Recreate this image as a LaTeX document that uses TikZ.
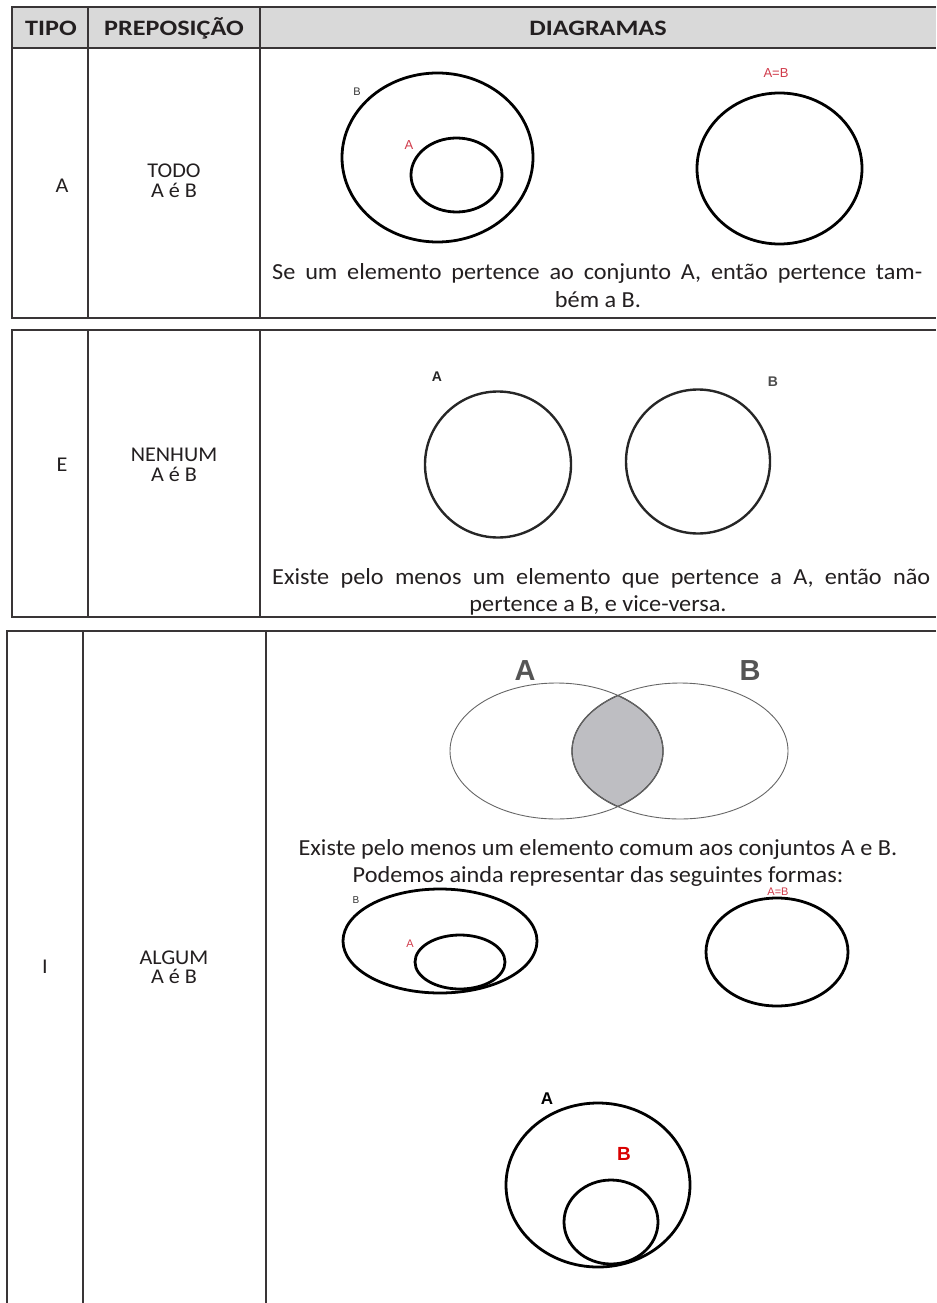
\documentclass[tikz,border=0pt]{standalone}
\usepackage{fontspec}
\setmainfont{Carlito}
\newfontfamily\diagfont{Carlito}[FakeStretch=1.055]
\newfontfamily\hdrfont{Carlito}[FakeStretch=1.19]
\newfontfamily\arialf{Liberation Sans}
\definecolor{ink}{HTML}{231F20}
\definecolor{hdr}{HTML}{D9D9D9}
\definecolor{lbl}{HTML}{D03A4A}
\definecolor{vgray}{HTML}{555555}
\definecolor{lens}{HTML}{BEBEC2}
\tikzset{
  grid/.style={line width=2.6pt, draw=ink!90},
  body/.style={font=\diagfont\fontsize{23bp}{28bp}\selectfont, text=ink, inner sep=0pt},
  side/.style={font=\diagfont\fontsize{21bp}{19.5bp}\selectfont, text=ink, inner sep=0pt},
  head/.style={font=\hdrfont\bfseries\fontsize{22bp}{28bp}\selectfont, text=ink, inner sep=0pt},
  thick set/.style={line width=2.8pt, draw=black},
  e set/.style={line width=2.4pt, draw=black!85},
  venn/.style={line width=0.9pt, draw=black!60},
  small lbl/.style={font=\arialf\fontsize{11bp}{12bp}\selectfont, inner sep=0pt},
}
\begin{document}
\begin{tikzpicture}[x=1bp,y=-1bp]
\useasboundingbox (0,0) rectangle (936,1303);
% ---------- table 1 ----------
\fill[hdr] (12,7) rectangle (936,48);
\draw[grid] (936,7) -- (12,7) -- (12,318) -- (936,318);
\draw[grid] (12,48) -- (936,48);
\draw[grid] (88,7) -- (88,318);
\draw[grid] (260,7) -- (260,318);
\node[head] (hTipo) at (51,28) {TIPO};
\node[head] (hPrep) at (174,28) {PREPOSIÇÃO};
\node[head] (hDiag) at (598,28) {DIAGRAMAS};
\node[side] (tA) at (62,186) {A};
\node[side,align=center] (pA) at (174,181) {TODO\\A é B};
% diagrams row A
\draw[thick set] (437.5,157.5) ellipse [x radius=95.5, y radius=84.5];
\draw[thick set] (456.5,175) ellipse [x radius=45.5, y radius=37];
\node[small lbl,text=black!80] (aB) at (357,92) {B};
\node[small lbl,text=lbl,font=\arialf\fontsize{13bp}{14bp}\selectfont] (aA) at (409,145) {A};
\draw[thick set] (779.5,168.5) ellipse [x radius=82.5, y radius=75.5];
\node[small lbl,text=lbl,font=\arialf\fontsize{13bp}{14bp}\selectfont] (aAB) at (776,73) {A=B};
\node[body,anchor=base west] (txA1) at (272,280) {\makebox[650bp][s]{Se um elemento pertence ao conjunto A, então pertence tam-}};
\node[body,anchor=base] (txA2) at (598,308) {bém a B.};
% ---------- table 2 ----------
\draw[grid] (936,330) -- (12,330) -- (12,617) -- (936,617);
\draw[grid] (88,330) -- (88,617);
\draw[grid] (260,330) -- (260,617);
\node[side] (tE) at (62,465) {E};
\node[side,align=center] (pE) at (174,465) {NENHUM\\A é B};
\draw[e set] (498,464.5) circle [radius=73];
\draw[e set] (698,461.5) circle [radius=72];
\node[small lbl,font=\arialf\bfseries\fontsize{14bp}{15bp}\selectfont,text=black!85] (eA) at (437,377) {A};
\node[small lbl,font=\arialf\bfseries\fontsize{14bp}{15bp}\selectfont,text=black!70] (eB) at (773,382) {B};
\node[body,anchor=base west] (txE1) at (272,584) {\makebox[658bp][s]{Existe pelo menos um elemento que pertence a A, então não}};
\node[body,anchor=base] (txE2) at (598,611) {pertence a B, e vice-versa.};
% ---------- table 3 ----------
\draw[grid] (936,631) -- (7,631) -- (7,1303);
\draw[grid] (83,631) -- (83,1303);
\draw[grid] (266,631) -- (266,1303);
\node[side] (tI) at (45,967) {I};
\node[side,align=center] (pI) at (174,967) {ALGUM\\A é B};
% venn
\begin{scope}
  \clip (556.5,751) ellipse [x radius=106.5, y radius=68];
  \fill[lens] (680,751) ellipse [x radius=108, y radius=68];
  \draw[line width=1.3pt, black!75] (680,751) ellipse [x radius=108, y radius=68];
\end{scope}
\begin{scope}
  \clip (680,751) ellipse [x radius=108, y radius=68];
  \draw[line width=1.3pt, black!75] (556.5,751) ellipse [x radius=106.5, y radius=68];
\end{scope}
\draw[venn] (556.5,751) ellipse [x radius=106.5, y radius=68];
\draw[venn] (680,751) ellipse [x radius=108, y radius=68];
\node[font=\arialf\bfseries\fontsize{29bp}{30bp}\selectfont, text=vgray, inner sep=0pt] (vA) at (525,671) {A};
\node[font=\arialf\bfseries\fontsize{29bp}{30bp}\selectfont, text=vgray, inner sep=0pt] (vB) at (750,671) {B};
\node[body,anchor=base] (txI1) at (598,855) {Existe pelo menos um elemento comum aos conjuntos A e B.};
\node[body,anchor=base] (txI2) at (598,882) {Podemos ainda representar das seguintes formas:};
% second diagrams
\draw[thick set] (440,941) ellipse [x radius=97, y radius=52];
\draw[thick set] (460,962) ellipse [x radius=45, y radius=27];
\node[small lbl,text=black!80,font=\arialf\fontsize{10bp}{11bp}\selectfont] (iB) at (356,900) {B};
\node[small lbl,text=lbl,font=\arialf\fontsize{11bp}{12bp}\selectfont] (iA) at (410,944) {A};
\draw[thick set] (777,952) ellipse [x radius=71, y radius=54];
\node[small lbl,text=lbl,font=\arialf\fontsize{11bp}{12bp}\selectfont] (iAB) at (778,892) {A=B};
% third diagram
\draw[thick set] (598,1185) ellipse [x radius=92, y radius=82];
\draw[thick set] (611,1222) ellipse [x radius=47, y radius=42];
\node[font=\arialf\bfseries\fontsize{17bp}{18bp}\selectfont, text=black, inner sep=0pt] (jA) at (547,1099) {A};
\node[font=\arialf\bfseries\fontsize{19bp}{20bp}\selectfont, text=red!85!black, inner sep=0pt] (jB) at (624,1154) {B};
\end{tikzpicture}
\end{document}
